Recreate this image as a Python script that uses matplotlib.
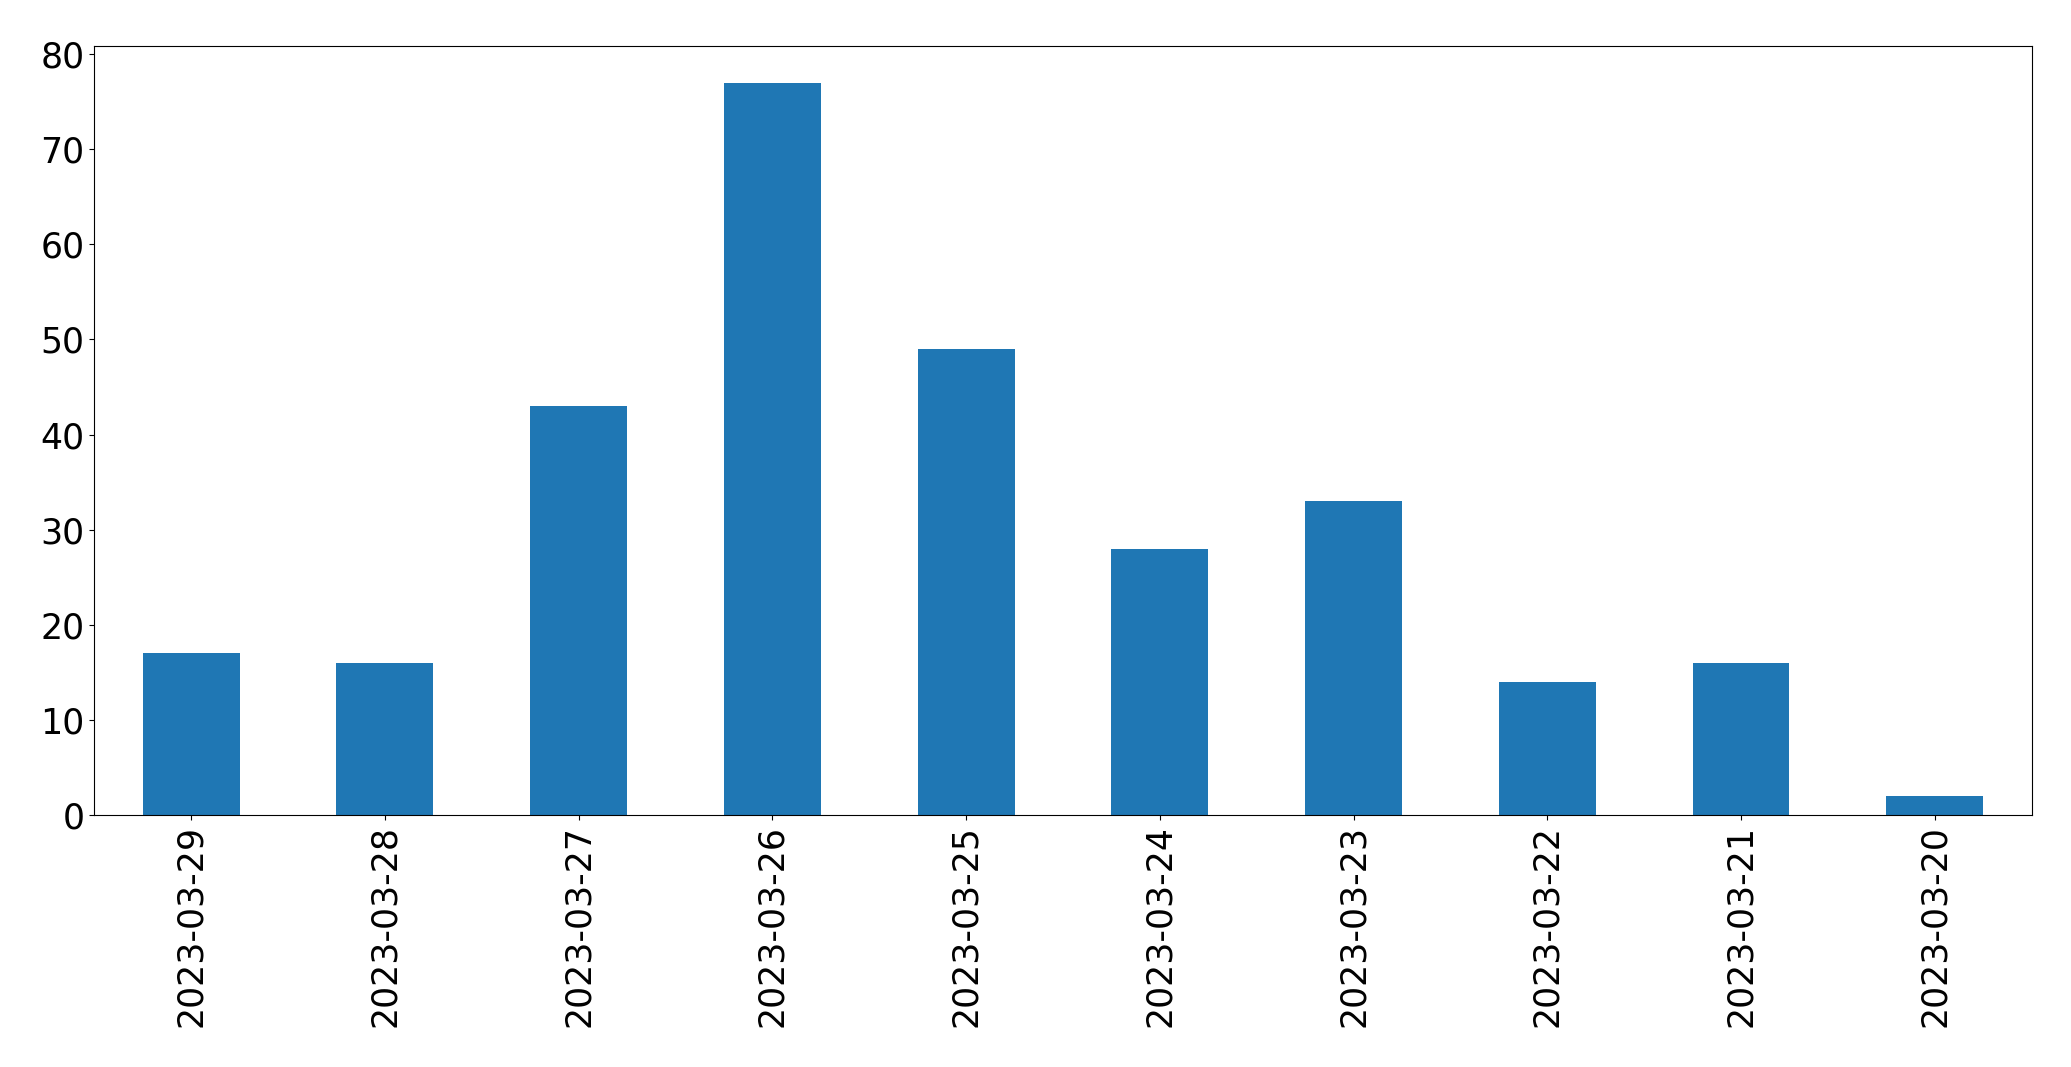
import matplotlib
matplotlib.use("Agg")
import matplotlib.pyplot as plt

# comptes par jour
dates = ["2023-03-29", "2023-03-28", "2023-03-27", "2023-03-26", "2023-03-25",
         "2023-03-24", "2023-03-23", "2023-03-22", "2023-03-21", "2023-03-20"]
counts = [17, 16, 43, 77, 49, 28, 33, 14, 16, 2]

fig, ax = plt.subplots(figsize=(20.71, 10.67), dpi=100)
fig.subplots_adjust(left=0.0455, right=0.981, top=0.957, bottom=0.236)

x = range(len(dates))
ax.bar(x, counts, width=0.5, color="#1f77b4")
ax.set_xticks(list(x))
ax.set_xticklabels(dates, rotation=90)
ax.set_xlim(-0.5, len(dates) - 0.5)
ax.tick_params(labelsize=25)

fig.savefig("out.png", dpi=100)
